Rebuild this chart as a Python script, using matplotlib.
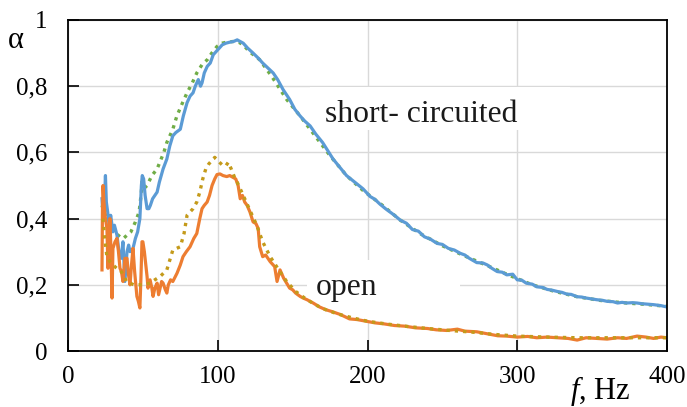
import matplotlib
matplotlib.use("Agg")
import matplotlib.pyplot as plt
from matplotlib.patches import Rectangle

# ---- data ----
f_short_meas = [22.7, 23.5, 24.5, 25.0, 25.6, 26.5, 27.5, 28.5, 30, 31, 32.7, 34, 35.5, 36.7, 38,
                39.4, 40.5, 41.4, 43.4, 45, 46.5, 48, 49.0, 49.6, 50.5, 51.5, 52.8, 54, 55, 56.5,
                58, 59.5, 61, 63.5, 66, 68, 70, 72, 75, 77, 79.5, 81.5, 83.5, 85, 87, 88.5, 89.5,
                91, 93, 95, 97, 100, 103, 105.5, 108, 110.5, 113, 115, 117, 120, 123.6, 127, 130,
                133.5, 137, 140, 143.6, 148, 151.5, 155, 158, 161.7, 165.5, 170, 173.5, 177, 181.5,
                186, 191.5, 197, 201.7, 205, 208, 212, 215, 218, 222, 226, 230, 234, 238, 242, 246.5,
                250, 254, 258, 262, 265, 268, 273, 277, 280, 283, 286.6, 290, 293, 297, 300, 303, 306,
                310, 313, 317, 320, 323, 326.6, 330, 333, 336, 340, 343, 346, 350, 353, 357, 360, 364,
                367, 370, 373, 377, 380, 383, 386, 391, 396, 400]
a_short_meas = [0.46, 0.40, 0.47, 0.53, 0.45, 0.42, 0.38, 0.41, 0.36, 0.38, 0.35, 0.30, 0.28, 0.33, 0.21,
                0.30, 0.32, 0.30, 0.31, 0.34, 0.36, 0.40, 0.50, 0.53, 0.52, 0.47, 0.43, 0.43, 0.44, 0.46,
                0.47, 0.48, 0.51, 0.55, 0.58, 0.62, 0.65, 0.66, 0.67, 0.71, 0.75, 0.77, 0.78, 0.80, 0.82, 0.80, 0.81,
                0.84, 0.86, 0.87, 0.895, 0.91, 0.925, 0.93, 0.933, 0.935, 0.94, 0.935, 0.93, 0.915, 0.90, 0.885, 0.87,
                0.855, 0.84, 0.82, 0.79, 0.76, 0.73, 0.71, 0.695, 0.68, 0.655, 0.63, 0.605, 0.58, 0.555,
                0.53, 0.51, 0.49, 0.467, 0.458, 0.445, 0.43, 0.42, 0.41, 0.395, 0.386, 0.367, 0.362, 0.345, 0.338, 0.325,
                0.322, 0.31, 0.305, 0.295, 0.29, 0.28, 0.267, 0.266, 0.26, 0.25, 0.24, 0.238, 0.23, 0.232, 0.215, 0.214, 0.205,
                0.202, 0.194, 0.192, 0.186, 0.184, 0.18, 0.177, 0.172, 0.171, 0.164, 0.163, 0.16, 0.157, 0.155, 0.153, 0.15, 0.149,
                0.145, 0.147, 0.145, 0.146, 0.145, 0.143, 0.142, 0.14, 0.137, 0.133]

f_short_calc = [22.7, 25, 28, 31, 34.7, 37, 39.4, 42, 45, 47.5, 49, 49.5, 50.5, 52.8, 56, 59.5, 64, 66,
                70, 72.7, 76, 79.5, 83, 86, 89.5, 93, 96, 99.5, 103, 106, 110, 114, 117, 121, 128, 136,
                146, 155, 165, 175, 186, 197, 210, 222, 235, 250, 265, 280, 295, 310, 325, 340, 355,
                370, 385, 400]
a_short_calc = [0.44, 0.41, 0.39, 0.36, 0.345, 0.34, 0.35, 0.36, 0.39, 0.42, 0.48, 0.52, 0.49, 0.50, 0.53,
                0.55, 0.60, 0.63, 0.67, 0.71, 0.745, 0.78, 0.81, 0.84, 0.865, 0.88, 0.90, 0.92, 0.93, 0.933,
                0.935, 0.933, 0.925, 0.905, 0.88, 0.83, 0.76, 0.71, 0.65, 0.59, 0.53, 0.485, 0.44, 0.395,
                0.355, 0.318, 0.287, 0.258, 0.228, 0.2, 0.18, 0.164, 0.153, 0.146, 0.141, 0.135]

f_open_meas = [22.7, 23.0, 23.4, 24.0, 24.7, 26, 26.7, 27.3, 28, 28.7, 29.4, 30, 31.4, 32.7, 33.7, 34.7,
               35.7, 36.7, 38, 39.4, 40.4, 41.4, 42.4, 43.4, 44.5, 46, 47, 48, 48.7, 49.4, 50, 51, 52.8,
               53.4, 54.8, 56, 56.8, 58, 59.5, 60.5, 61.5, 62.5, 63.5, 65, 66, 67, 68.5, 70, 72.8, 75,
               76.8, 79, 81.5, 84, 86, 88, 89.5, 91, 92.9, 94.5, 96.2, 98, 99.5, 101.5, 103.5, 106, 108,
               110, 112, 113.6, 115, 116.5, 118, 119.6, 121.5, 123.6, 125.5, 127, 128, 130, 132, 135,
               138, 139.6, 141.6, 144, 146, 148, 150, 152, 155, 157, 159.6, 163.7, 168, 172, 177, 182,
               188, 193, 199, 205, 211, 218, 225, 232, 240, 246, 253, 260, 265, 273, 280, 287, 293, 300,
               307, 313, 320, 327, 334, 340, 346, 353, 360, 367, 373, 380, 386, 391, 396, 400]
a_open_meas = [0.245, 0.42, 0.50, 0.45, 0.41, 0.37, 0.25, 0.33, 0.40, 0.30, 0.16, 0.31, 0.33, 0.34, 0.30, 0.25,
               0.24, 0.21, 0.28, 0.28, 0.23, 0.20, 0.26, 0.31, 0.24, 0.165, 0.15, 0.13, 0.22, 0.33, 0.33, 0.30, 0.225,
               0.19, 0.215, 0.19, 0.165, 0.19, 0.205, 0.17, 0.19, 0.21, 0.205, 0.185, 0.175, 0.2, 0.215, 0.21, 0.235, 0.26,
               0.285, 0.30, 0.315, 0.34, 0.355, 0.40, 0.43, 0.44, 0.45, 0.47, 0.50, 0.52, 0.533, 0.535, 0.53, 0.527, 0.53,
               0.525, 0.52, 0.50, 0.46, 0.47, 0.45, 0.44, 0.42, 0.39, 0.385, 0.37, 0.315, 0.285, 0.29, 0.27,
               0.255, 0.21, 0.245, 0.22, 0.205, 0.19, 0.185, 0.175, 0.165, 0.16, 0.155, 0.145, 0.133, 0.125, 0.118, 0.11,
               0.097, 0.095, 0.09, 0.085, 0.082, 0.077, 0.075, 0.07, 0.068, 0.064, 0.062, 0.066, 0.06, 0.058, 0.052, 0.046, 0.045, 0.042,
               0.044, 0.04, 0.042, 0.04, 0.038, 0.033, 0.04, 0.038, 0.036, 0.04, 0.038, 0.045, 0.042, 0.038, 0.042, 0.04]

f_open_calc = [23.4, 24.5, 26, 28, 30, 32.5, 34.7, 37, 39, 41.4, 44, 46, 50, 54.8, 58, 61.5, 66, 70, 75,
               77.5, 79.5, 81.5, 83.5, 86, 88, 90, 92, 94, 96, 98, 100, 103.5, 105.5, 107, 109, 111, 113,
               115, 118, 122, 126, 130, 135, 140, 146, 152, 158, 165, 172, 180, 190, 200, 212, 225, 240,
               255, 270, 285, 300, 320, 340, 360, 380, 400]
a_open_calc = [0.40, 0.34, 0.285, 0.27, 0.26, 0.25, 0.245, 0.23, 0.21, 0.205, 0.20, 0.20, 0.20, 0.205, 0.215,
               0.225, 0.245, 0.305, 0.315, 0.355, 0.41, 0.42, 0.43, 0.45, 0.48, 0.52, 0.55, 0.565, 0.575, 0.585,
               0.575, 0.56, 0.56, 0.57, 0.55, 0.527, 0.51, 0.49, 0.46, 0.42, 0.38, 0.33, 0.285, 0.25, 0.21, 0.18,
               0.16, 0.14, 0.125, 0.112, 0.1, 0.09, 0.082, 0.075, 0.068, 0.062, 0.057, 0.05, 0.045, 0.042, 0.04,
               0.04, 0.04, 0.04]

x_ticks = [0, 100, 200, 300, 400]
x_tick_labels = ["0", "100", "200", "300", "400"]
y_ticks = [0, 0.2, 0.4, 0.6, 0.8, 1.0]
y_tick_labels = ["0", "0,2", "0,4", "0,6", "0,8", "1"]

# ---- style ----
plt.rcParams['font.family'] = ['Liberation Serif', 'DejaVu Serif']
plt.rcParams['mathtext.fontset'] = 'custom'
plt.rcParams['mathtext.rm'] = 'Liberation Serif'
plt.rcParams['mathtext.it'] = 'Liberation Serif:italic'

BLUE = '#5B9BD5'
ORANGE = '#ED7D31'
GREEN = '#70AD47'
GOLD = '#C49A1A'

fig = plt.figure(figsize=(6.87, 4.07), dpi=100)
ax = fig.add_axes([68/687, 56/407, 599/687, 331/407])

ax.set_xlim(0, 400)
ax.set_ylim(0, 1)
ax.set_axisbelow(True)
ax.grid(True, color='#d9d9d9', linewidth=1.0)

# white label boxes (under the curves, over the grid)
ax.add_patch(Rectangle((0.404, 0.668), 0.434, 0.13, transform=ax.transAxes,
                       facecolor='white', edgecolor='none', zorder=1.2))
ax.add_patch(Rectangle((0.399, 0.0876), 0.255, 0.187, transform=ax.transAxes,
                       facecolor='white', edgecolor='none', zorder=1.2))

ax.plot(f_short_calc, a_short_calc, color=GREEN, lw=2.4, ls=(0, (1, 1.5)), zorder=2)
ax.plot(f_short_meas, a_short_meas, color=BLUE, lw=2.3, zorder=2.1)
ax.plot(f_open_meas, a_open_meas, color=ORANGE, lw=2.3, zorder=2.1)
ax.plot(f_open_calc, a_open_calc, color=GOLD, lw=2.4, ls=(0, (1, 1.5)), zorder=2.2)

ax.text(0.429, 0.692, "short- circuited", transform=ax.transAxes, fontsize=22.8,
        ha='left', va='baseline', color='#1a1a1a', zorder=1.5)
ax.text(0.414, 0.169, "open", transform=ax.transAxes, fontsize=22.8,
        ha='left', va='baseline', color='#1a1a1a', zorder=1.5)

ax.set_xticks(x_ticks)
ax.set_xticklabels(x_tick_labels)
ax.set_yticks(y_ticks)
ax.set_yticklabels(y_tick_labels)
ax.tick_params(axis='x', direction='in', length=8, width=1.2, pad=11, labelsize=18, colors='black')
ax.tick_params(axis='y', direction='in', length=8, width=1.2, pad=15, labelsize=18, colors='black')

for s in ax.spines.values():
    s.set_linewidth(1.3)
    s.set_color('black')

fig.text(16/687, 1 - 48/407, "α", fontsize=22, ha='center', va='baseline')
fig.text(570/687, 1 - 399/407, r"$f$, Hz", fontsize=22, ha='left', va='baseline')

fig.savefig("out.png", dpi=100)
